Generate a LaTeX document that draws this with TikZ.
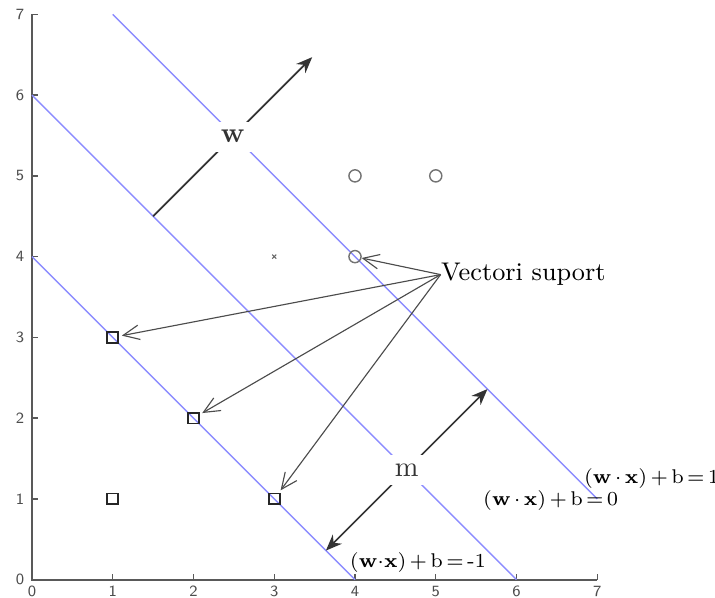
\documentclass[tikz,border=0pt]{standalone}
\usepackage{tikz}
\usetikzlibrary{arrows.meta,positioning}

\begin{document}
\begin{tikzpicture}[>=Stealth,
  every node/.style={font=\small},
  tick/.style={font=\fontsize{5.5}{6}\sffamily,text=black!70,inner sep=0pt},
  eqlabel/.style={anchor=base west,inner sep=0pt,font=\fontsize{7}{8.5}\selectfont}]
\useasboundingbox (-0.396,-0.223) rectangle (8.458,7.178);
% axes
\draw[black!65,line width=0.7pt] (0,7) -- (0,0) -- (7,0);
\foreach \i in {0,...,7} {
  \draw[black!65,line width=0.5pt] (0,\i) -- ++(0.07,0);
  \draw[black!65,line width=0.5pt] (\i,0) -- ++(0,0.07);
  \node[tick,anchor=east] at (-0.09,\i) {\i};
  \node[tick,anchor=north] at (\i,-0.07) {\i};
}
% margins
\draw[blue!45,line width=0.5pt] (1,7) -- (7,1);
\draw[blue!45,line width=0.5pt] (0,6) -- (6,0);
\draw[blue!45,line width=0.5pt] (0,4) -- (4,0);
% points
\node[draw=black!55,circle,line width=0.5pt,inner sep=0pt,minimum size=1.5mm] (c1) at (4,5) {};
\node[draw=black!55,circle,line width=0.5pt,inner sep=0pt,minimum size=1.5mm] (c2) at (5,5) {};
\node[draw=black!55,circle,line width=0.5pt,inner sep=0pt,minimum size=1.5mm] (c3) at (4,4) {};
\node[draw=black!85,rectangle,line width=0.6pt,inner sep=0pt,minimum size=1.35mm] (s1) at (1,3) {};
\node[draw=black!85,rectangle,line width=0.6pt,inner sep=0pt,minimum size=1.35mm] (s2) at (2,2) {};
\node[draw=black!85,rectangle,line width=0.6pt,inner sep=0pt,minimum size=1.35mm] (s3) at (3,1) {};
\node[draw=black!85,rectangle,line width=0.6pt,inner sep=0pt,minimum size=1.35mm] (s4) at (1,1) {};
\draw[black!60,line width=0.4pt] (2.975,3.975) -- (3.025,4.025) (2.975,4.025) -- (3.025,3.975);
% labels of the lines
\node[eqlabel] (eq1) at (6.83,1.19)
  {(\textbf{w}\,$\cdot$\,\textbf{x})\,+\,b\,=\,1};
\node[eqlabel] (eq0) at (5.58,0.92)
  {(\textbf{w}\,$\cdot$\,\textbf{x})\,+\,b\,=\,0};
\node[eqlabel] (eqm) at (3.93,0.15)
  {(\textbf{w}$\cdot$\textbf{x})\,+\,b\,=\,-1};
% support vectors
\node[anchor=base west,inner sep=0pt] (vs) at (5.06,3.70) {Vectori suport};
\draw[->,>={Straight Barb[length=2mm,width=1.8mm]},black!70] (vs.west) -- (c3);
\draw[->,>={Straight Barb[length=2mm,width=1.8mm]},black!70,shorten >=1pt] (vs.west) -- (s1);
\draw[->,>={Straight Barb[length=2mm,width=1.8mm]},black!70,shorten >=1pt] (vs.west) -- (s2);
\draw[->,>={Straight Barb[length=2mm,width=1.8mm]},black!70,shorten >=1pt] (vs.west) -- (s3);
% normal vector and margin
\coordinate (wA) at (1.5,4.5);
\coordinate (wB) at (3.47,6.47);
\coordinate (mA) at (3.64,0.36);
\coordinate (mB) at (5.64,2.36);
\draw[->,>={Stealth[length=2mm,width=1.6mm]},black!80,line width=0.6pt] (wA) --
  node[fill=white,inner sep=3pt,font=\normalsize\bfseries] (w) {w} (wB);
\draw[<->,>={Stealth[length=2mm,width=1.6mm]},black!80,line width=0.6pt] (mA) --
  node[fill=white,inner sep=3pt,font=\normalsize] (m) {m} (mB);
\end{tikzpicture}
\end{document}
